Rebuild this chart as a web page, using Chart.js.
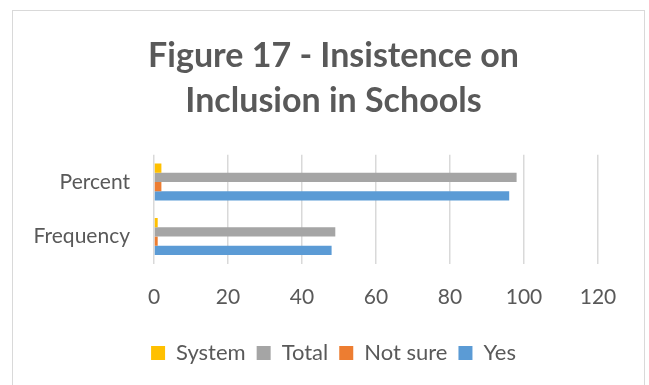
<!DOCTYPE html>
<html>
<head>
<meta charset="utf-8">
<script src="https://cdn.jsdelivr.net/npm/chart.js@4/dist/chart.umd.min.js"></script>
<style>
    body { margin: 0; background: #fff; }
    #cadre {
        position: absolute; left: 12px; top: 10px;
        width: 633px; height: 385px;
        border: 1px solid #d9d9d9; box-sizing: border-box;
    }
    #zone { position: absolute; left: 0; top: 0; width: 649px; height: 385px; }
</style>
</head>
<body>
<div id="cadre"></div>
<div id="zone"><canvas id="myChart" width="649" height="385"></canvas></div>
<script>
// Catégories et séries (Excel empile les séries de bas en haut)
const categories = ["Percent", "Frequency"];
const serieSystem = [2, 1];
const serieTotal = [98, 49];
const serieNotSure = [2, 1];
const serieYes = [96, 48];
const ticksX = [0, 20, 40, 60, 80, 100, 120];

const gris = "#595959";
const police = "Lato";

const ctx = document.getElementById("myChart").getContext("2d");
const chart = new Chart(ctx, {
    type: 'bar',
    data: {
        labels: categories,
        datasets: [
            { label: "System", data: serieSystem, backgroundColor: '#FFC000' },
            { label: "Total", data: serieTotal, backgroundColor: '#A5A5A5' },
            { label: "Not sure", data: serieNotSure, backgroundColor: '#ED7D31' },
            { label: "Yes", data: serieYes, backgroundColor: '#5B9BD5' }
        ]
    },
    options: {
        indexAxis: 'y',
        responsive: false,
        animation: false,
        datasets: {
            bar: { barPercentage: 1, categoryPercentage: 0.68 }
        },
        layout: {
            padding: { top: 34, left: 20, right: 2, bottom: 11 }
        },
        scales: {
            x: {
                min: 0,
                max: 120,
                afterBuildTicks: (axis) => {
                    axis.ticks = ticksX.map(v => ({ value: v }));
                },
                grid: { color: '#d9d9d9', lineWidth: 1.5, drawTicks: false },
                border: { display: false },
                ticks: { color: gris, padding: 21, font: { family: police, size: 21 } }
            },
            y: {
                grid: { display: false, drawTicks: false },
                border: { display: false },
                ticks: { color: gris, padding: 24, font: { family: police, size: 21 } },
                afterFit: (axis) => { axis.width = 134; }
            },
            // marge à droite du graphique, pour centrer la légende comme dans Excel
            marge: {
                type: 'linear',
                position: 'right',
                grid: { display: false, drawTicks: false },
                border: { display: false },
                ticks: { display: false },
                afterFit: (axis) => { axis.width = 49; }
            }
        },
        plugins: {
            title: {
                display: true,
                text: ["Figure 17 - Insistence on", "Inclusion in Schools"],
                color: gris,
                font: { family: police, size: 34, weight: 'bold', lineHeight: 1.32 },
                padding: { top: 0, bottom: 31 }
            },
            legend: {
                position: 'bottom',
                labels: {
                    color: gris,
                    boxWidth: 14,
                    boxHeight: 14,
                    padding: 11,
                    font: { family: police, size: 22 }
                }
            },
            tooltip: { enabled: false }
        }
    }
});
</script>
</body>
</html>
